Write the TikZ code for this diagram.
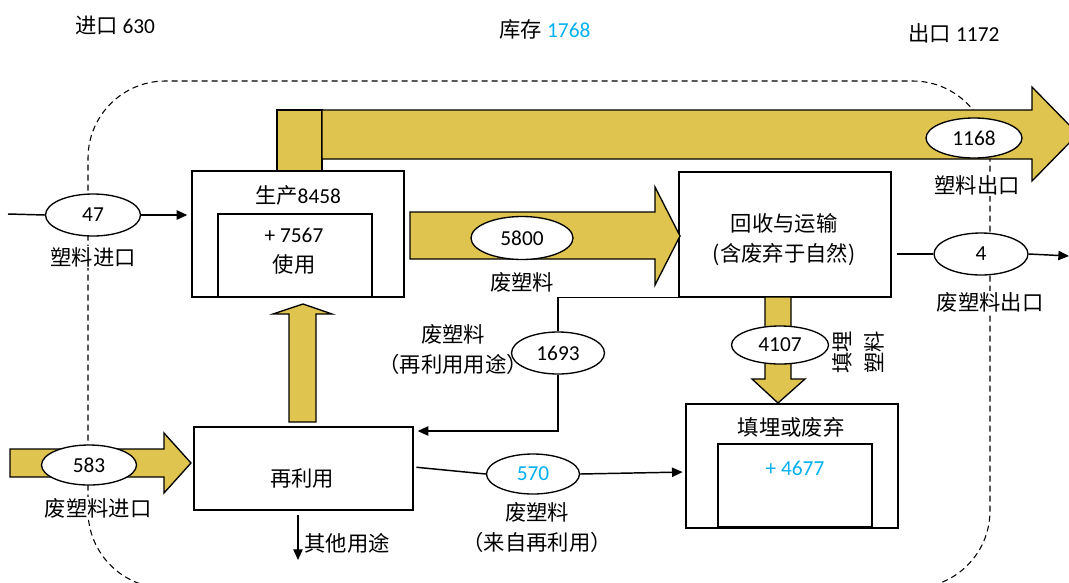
\documentclass[tikz,border=0pt]{standalone}
\usepackage{fontspec}
\setmainfont{Carlito}
\newfontfamily\cjkf{Noto Sans CJK SC}
\usetikzlibrary{shapes.geometric,arrows.meta}
\definecolor{gold}{RGB}{224,196,80}
\definecolor{skyb}{RGB}{0,176,240}
\newcommand{\zhtxt}[1]{{\cjkf #1}}
\tikzset{
  every node/.style={font=\fontsize{16}{22.5}\selectfont},
  bigarrow/.style={fill=gold, draw=black, line width=1pt, line join=miter},
  rect/.style={draw, line width=1pt, fill=white, inner sep=0pt},
  oval/.style={ellipse, draw, line width=1pt, fill=white, inner sep=0pt},
  lbl/.style={inner sep=1pt, align=center},
  wlbl/.style={lbl, fill=white},
  conn/.style={line width=1.1pt},
  arr/.style={conn, -{Triangle[length=8pt,width=7pt]}},
  dashline/.style={line width=0.8pt, dash pattern=on 4.5pt off 3pt},
}
\begin{document}
\begin{tikzpicture}[x=0.75pt, y=-0.75pt]
\useasboundingbox (0,0) rectangle (1069,582);
% dashed system boundary
\draw[dashline, rounded corners=58pt] (88,588) -- (88,81) -- (990,81) -- (990,588) -- cycle;

% top export arrow
\draw[bigarrow] (277,110) rectangle (322,171);
\draw[bigarrow] (322,110) -- (1032,110) -- (1032,87) -- (1078,134) -- (1032,181) -- (1032,159) -- (322,159) -- cycle;

% boxes
\node[rect, minimum width=159pt, minimum height=94.5pt] (prod) at (298,234) {};
\node[rect, minimum width=115.5pt, minimum height=62.25pt] (use) at (295,255.5) {};
\node[rect, minimum width=159pt, minimum height=93.75pt, align=center] (recyc) at (785,234.5) {};
\node[rect, minimum width=159pt, minimum height=93pt] (landfill) at (792,466) {};
\node[rect, minimum width=115.5pt, minimum height=62.25pt] (stock) at (795,485.5) {};
\node[rect, minimum width=164.25pt, minimum height=62.25pt] (reuse) at (303.5,468.5) {};

% big flow arrows
\draw[bigarrow] (410,212) -- (655,212) -- (655,187) -- (680,236) -- (655,285) -- (655,259) -- (410,259) -- cycle;
\draw[bigarrow] (765,297) -- (791,297) -- (791,379) -- (805,379) -- (778,403) -- (752,379) -- (765,379) -- cycle;
\draw[bigarrow] (289,422) -- (289,314) -- (273,314) -- (303,304) -- (332,314) -- (316,314) -- (316,422) -- cycle;
\draw[bigarrow] (10,449) -- (164,449) -- (164,433) -- (191,463) -- (164,493) -- (164,477) -- (10,477) -- cycle;

% box texts
\node[lbl] (prodT) at (298,195) {\zhtxt{生产}8458};
\node[lbl] (useT) at (294,251.5) {+ 7567\\\zhtxt{使用}};
\node[lbl] (recycT) at (784,240) {\zhtxt{回收与运输}\\\zhtxt{(含废弃于自然)}};
\node[lbl] (landT) at (791,427) {\zhtxt{填埋或废弃}};
\node[lbl, text=skyb] (stockT) at (795,468) {+ 4677};
\node[lbl] (reuseT) at (302,479) {\zhtxt{再利用}};

% header texts
\node[lbl] (imp) at (115,25) {\zhtxt{进口} 630};
\node[lbl] (inv) at (545,29) {\zhtxt{库存} \textcolor{skyb}{1768}};
\node[lbl] (exp) at (954,33) {\zhtxt{出口} 1172};

% flow labels
\node[wlbl] (l47) at (93,257) {\zhtxt{塑料进口}};
\node[wlbl] (l583) at (98,508) {\zhtxt{废塑料进口}};
\node[wlbl] (l1168) at (977,185) {\zhtxt{塑料出口}};
\node[wlbl] (l4) at (990,302) {\zhtxt{废塑料出口}};
\node[lbl] (l5800) at (522,282) {\zhtxt{废塑料}};
\node[lbl] (l1693) at (453,349.5) {\zhtxt{废塑料}\\\zhtxt{（再利用用途）}};
\node[lbl] (l570) at (537,528) {\zhtxt{废塑料}\\\zhtxt{（来自再利用）}};
\node[lbl, rotate=90, font=\fontsize{16}{24}\selectfont] (l4107) at (858,352) {\zhtxt{填埋}\\\zhtxt{塑料}};
\node[lbl] (lother) at (347,543) {\zhtxt{其他用途}};

% free ends
\coordinate (in47) at (8,214);
\coordinate (o4) at (1069,256);
\coordinate (r1) at (0,431);
\coordinate (r2) at (0,467);
\coordinate (r3) at (0,472);
\coordinate (ot1) at (298,515);
\coordinate (ot2) at (298,560);

% ellipses
\node[oval, minimum width=71.25pt, minimum height=31.5pt] (e47) at (93,215) {47};
\node[oval, minimum width=71.25pt, minimum height=30pt] (e583) at (89,465) {583};
\node[oval, minimum width=76.5pt, minimum height=32.25pt] (e5800) at (522,238) {5800};
\node[oval, minimum width=72pt, minimum height=30pt] (e1168) at (974,138) {1168};
\node[oval, minimum width=70.5pt, minimum height=31.5pt] (e4) at (981,254) {4};
\node[oval, minimum width=69.75pt, minimum height=31.5pt] (e1693) at (558,353) {1693};
\node[oval, minimum width=72.75pt, minimum height=28.5pt] (e4107) at (780,345) {4107};
\node[oval, minimum width=69.75pt, minimum height=30pt, text=skyb] (e570) at (533,474) {570};

% thin connectors
\draw[conn] (in47) -- (e47.west);
\draw[arr, shorten >=3pt] (e47.east) -- (prod.west |- e47.east);
\draw[conn, shorten <=4pt] (recyc.east |- e4.west) -- (e4.west);
\draw[arr] (e4.east) -- (o4);
\draw[conn] (recyc.south west) -- (e1693 |- recyc.south west) -- (e1693.north);
\draw[arr, shorten >=3pt] (e1693.south) |- (reuse.east |- r1);
\draw[conn, shorten <=2pt] (reuse.east |- r2) -- (e570.west);
\draw[arr, shorten >=2pt] (e570.east) -- (landfill.west |- r3);
\draw[arr] (ot1) -- (ot2);
\end{tikzpicture}
\end{document}
